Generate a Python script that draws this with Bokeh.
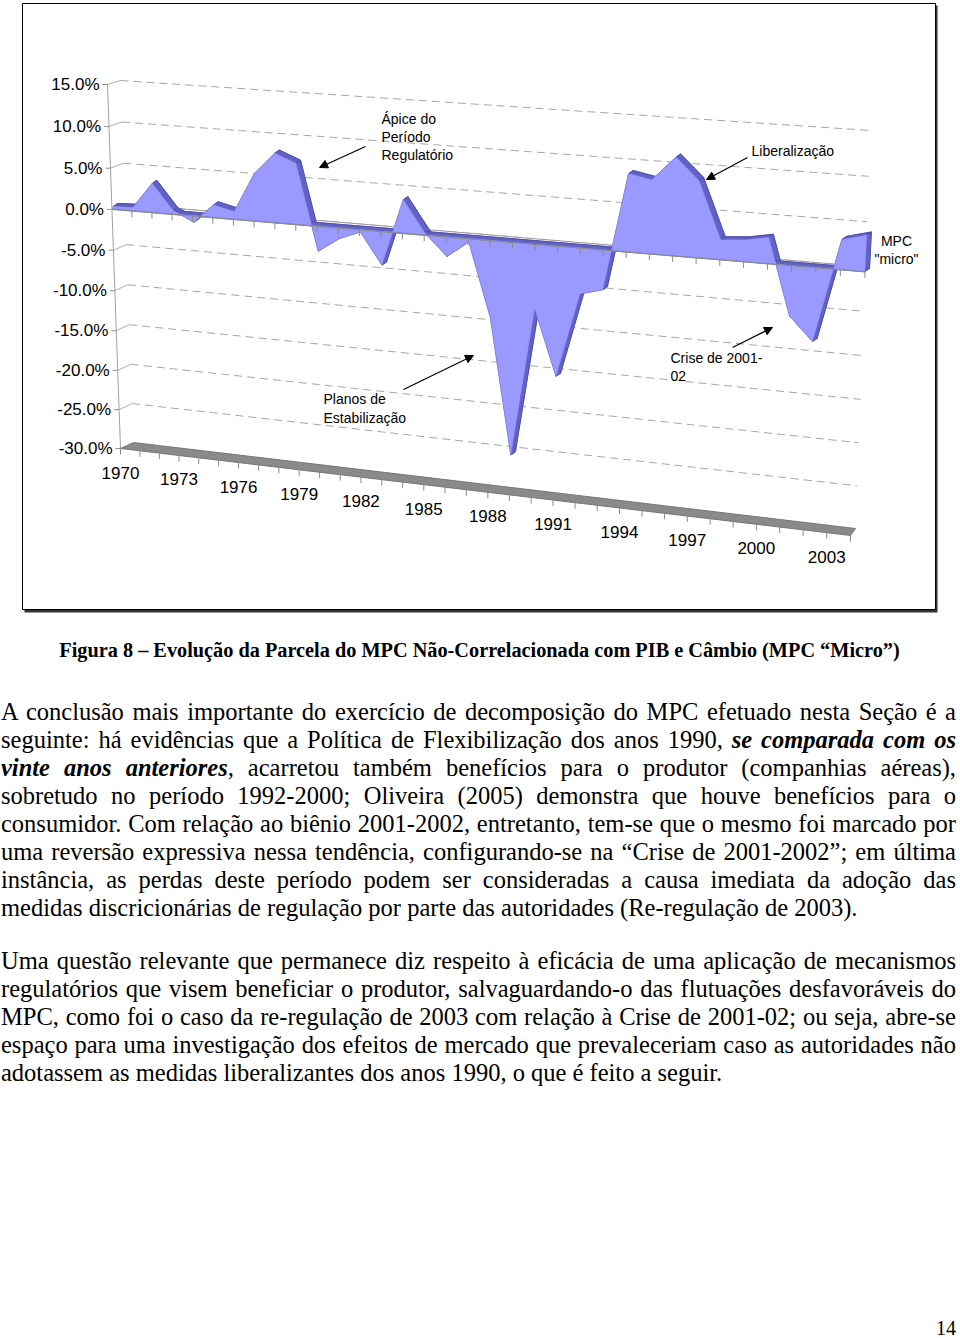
import numpy as np
from bokeh.plotting import figure
from bokeh.models import Range1d, Arrow, NormalHead, Div, ColumnDataSource
from bokeh.layouts import column
from bokeh.embed import file_html
from bokeh.resources import INLINE
from bokeh.core.properties import value

# ---------------- data ----------------
years = list(range(1970, 2005))
mpc_micro = [0.3, 0.4, 3.5, 0.4, -0.8, 1.5, 0.9, 5.6, 8.2, 7.2,
             -3.0, -1.3, -0.3, -4.0, 3.9, 0.2, -2.3, -0.4, -9.0, -25.2,
             -7.5, -15.2, -5.3, -4.6, 8.8, 8.3, 11.0, 8.6, 2.2, 2.4,
             2.9, -5.7, -8.3, 3.3, 4.0]
y_ticks = [15, 10, 5, 0, -5, -10, -15, -20, -25, -30]
y_tick_labels = ["%.1f%%" % v for v in y_ticks]
x_label_years = list(range(1970, 2004, 3))
x_labels = [str(y) for y in x_label_years]

caption = "Figura 8 \u2013 Evolução da Parcela do MPC Não-Correlacionada com PIB e Câmbio (MPC \u201cMicro\u201d)"

para1 = [
    "A conclusão mais importante do exercício de decomposição do MPC efetuado nesta Seção é a",
    "seguinte: há evidências que a Política de Flexibilização dos anos 1990, <b><i>se comparada com os</i></b>",
    "<b><i>vinte anos anteriores</i></b>, acarretou também benefícios para o produtor (companhias aéreas),",
    "sobretudo no período 1992-2000; Oliveira (2005) demonstra que houve benefícios para o",
    "consumidor. Com relação ao biênio 2001-2002, entretanto, tem-se que o mesmo foi marcado por",
    "uma reversão expressiva nessa tendência, configurando-se na \u201cCrise de 2001-2002\u201d; em última",
    "instância, as perdas deste período podem ser consideradas a causa imediata da adoção das",
    "medidas discricionárias de regulação por parte das autoridades (Re-regulação de 2003).",
]
para2 = [
    "Uma questão relevante que permanece diz respeito à eficácia de uma aplicação de mecanismos",
    "regulatórios que visem beneficiar o produtor, salvaguardando-o das flutuações desfavoráveis do",
    "MPC, como foi o caso da re-regulação de 2003 com relação à Crise de 2001-02; ou seja, abre-se",
    "espaço para uma investigação dos efeitos de mercado que prevaleceriam caso as autoridades não",
    "adotassem as medidas liberalizantes dos anos 1990, o que é feito a seguir.",
]
page_number = "14"

# ---------------- 3-D perspective projection ----------------
V_MIN, V_MAX = -30.0, 15.0
Y_FIRST, Y_LAST = years[0], years[-1]


def make_h(c00, c10, c11, c01):
    (x0, y0), (x1, y1), (x2, y2), (x3, y3) = c00, c10, c11, c01
    dx1, dy1 = x1 - x2, y1 - y2
    dx2, dy2 = x3 - x2, y3 - y2
    sx, sy = x0 - x1 + x2 - x3, y0 - y1 + y2 - y3
    det = dx1 * dy2 - dx2 * dy1
    g = (sx * dy2 - sy * dx2) / det
    h = (dx1 * sy - dy1 * sx) / det
    a, b, c = x1 - x0 + g * x1, x3 - x0 + h * x3, x0
    d, e, f = y1 - y0 + g * y1, y3 - y0 + h * y3, y0

    def fn(s, t):
        w = g * s + h * t + 1.0
        return (a * s + b * t + c) / w, (d * s + e * t + f) / w
    return fn


front = make_h((120, 448), (850, 535), (872, 133), (107, 84))
back = make_h((133, 442), (855, 528), (870, 130), (120, 80))


def proj(year, v, depth):
    s = (np.asarray(year, float) - Y_FIRST) / (Y_LAST - Y_FIRST)
    t = (np.asarray(v, float) - V_MIN) / (V_MAX - V_MIN)
    fx, fy = front(s, t)
    bx, by = back(s, t)
    return fx + depth * (bx - fx), fy + depth * (by - fy)


SERIES_D = 0.1
EXTRUDE = (4.5, -3.0)

W, H = 960, 670
p = figure(width=W, height=H, x_range=Range1d(0, W), y_range=Range1d(H, 0),
           output_backend="svg", toolbar_location=None,
           x_axis_location=None, y_axis_location=None,
           min_border=0, outline_line_color=None)
p.grid.visible = False
p.background_fill_color = "white"
p.border_fill_color = "white"

# chart frame with shadow
p.quad(left=[24], right=[937], top=[5], bottom=[612], fill_color="#333333", line_color=None)
p.quad(left=[22], right=[935], top=[3], bottom=[609], fill_color="white",
       line_color="black", line_width=1)

SANS = value("Liberation Sans")

# back-wall gridlines
gx, gy = [], []
for v in y_ticks[:-1]:
    xx, yy = proj([Y_FIRST, Y_LAST], [v, v], 1.0)
    gx.append(list(xx)); gy.append(list(yy))
p.multi_line(gx, gy, line_color="#a6a6a6", line_dash="8 5", line_width=1)

# depth connectors on the left wall + axis ticks
dx_, dy_, tx_, ty_ = [], [], [], []
for v in y_ticks:
    fx, fy = proj(Y_FIRST, v, 0.0)
    bx, by = proj(Y_FIRST, v, 1.0)
    dx_.append([float(fx), float(bx)]); dy_.append([float(fy), float(by)])
    tx_.append([float(fx) - 5, float(fx)]); ty_.append([float(fy), float(fy)])
p.multi_line(dx_[:-1], dy_[:-1], line_color="#b0b0b0", line_width=1)
p.multi_line(tx_, ty_, line_color="#909090", line_width=1)

# value axis line
ax, ay = proj([Y_FIRST, Y_FIRST], [V_MIN, V_MAX], 0.0)
p.line(list(ax), list(ay), line_color="#a0a0a0", line_width=1)

# floor
fxs, fys = [], []
for yr, d in [(Y_FIRST, 0), (Y_LAST, 0), (Y_LAST, 1), (Y_FIRST, 1)]:
    x, y = proj(yr, V_MIN, d)
    fxs.append(float(x)); fys.append(float(y))
p.patch(fxs, fys, fill_color="#8a8a8a", line_color="#777777", line_width=1)

# floor ticks
ftx, fty = [], []
for yr in years:
    x, y = proj(yr, V_MIN, 0.0)
    ftx.append([float(x), float(x)]); fty.append([float(y) - 1, float(y) + 6])
p.multi_line(ftx, fty, line_color="#8a8a8a", line_width=1)

# zero plane strip
zxs, zys = [], []
for yr, d in [(Y_FIRST, 0), (Y_LAST, 0), (Y_LAST, 1), (Y_FIRST, 1)]:
    x, y = proj(yr, 0.0, d)
    zxs.append(float(x)); zys.append(float(y))
p.patch(zxs, zys, fill_color="white", line_color="#9a9a9a", line_width=1)

# series (3-D area)
sx, sy = proj(years, mpc_micro, SERIES_D)
b0x, b0y = proj(Y_FIRST, 0.0, SERIES_D)
b1x, b1y = proj(Y_LAST, 0.0, SERIES_D)
px = [float(b0x)] + [float(v) for v in sx] + [float(b1x)]
py = [float(b0y)] + [float(v) for v in sy] + [float(b1y)]
ox, oy = EXTRUDE
p.patch([x + ox for x in px], [y + oy for y in py], fill_color="#6262C4", line_color="#4C4CA6", line_width=0.8)
qx, qy = [], []
n = len(px)
for i in range(n):
    j = (i + 1) % n
    qx.append([px[i], px[j], px[j] + ox, px[i] + ox])
    qy.append([py[i], py[j], py[j] + oy, py[i] + oy])
p.patches(qx, qy, fill_color="#6262C4", line_color="#4C4CA6", line_width=0.8)
p.patch(px, py, fill_color="#9999FF", line_color="#8C8CF0", line_width=0.6)

# category axis at zero with ticks
zx, zy = proj([Y_FIRST, Y_LAST], [0, 0], 0.0)
p.line(list(zx), list(zy), line_color="#8a8a8a", line_width=1)
ztx, zty = [], []
for yr in years[1:]:
    x, y = proj(yr, 0.0, 0.0)
    ztx.append([float(x), float(x)]); zty.append([float(y), float(y) + 6])
p.multi_line(ztx, zty, line_color="#8a8a8a", line_width=1)

# value axis labels
lx, ly = proj([Y_FIRST] * len(y_ticks), y_ticks, 0.0)
p.text(x=[float(v) - 8 for v in lx], y=[float(v) for v in ly], text=y_tick_labels,
       text_font=SANS, text_font_size="17px", text_align="right", text_baseline="middle",
       text_color="black")

# category labels
cx, cy = proj(x_label_years, [V_MIN] * len(x_label_years), 0.0)
p.text(x=[float(v) for v in cx], y=[float(v) + 24 for v in cy], text=x_labels,
       text_font=SANS, text_font_size="17px", text_align="center", text_baseline="middle",
       text_color="black")

# annotations
ann = ColumnDataSource(dict(
    x=[381, 381, 381, 751, 670, 670, 323, 323],
    y=[118, 136, 154, 150, 357, 375, 398, 417],
    t=["Ápice do", "Período", "Regulatório", "Liberalização", "Crise de 2001-", "02",
       "Planos de", "Estabilização"]))
p.text(x="x", y="y", text="t", source=ann, text_font=SANS, text_font_size="14px",
       text_align="left", text_baseline="middle", text_color="black")
p.text(x=[896, 896], y=[240, 258], text=["MPC", "\"micro\""], text_font=SANS,
       text_font_size="14px", text_align="center", text_baseline="middle", text_color="black")

for (x0, y0, x1, y1) in [(365, 146, 319, 167), (747, 157, 706, 179),
                         (732, 347, 772, 327), (403, 389, 473, 355)]:
    p.add_layout(Arrow(end=NormalHead(size=8, fill_color="black", line_color="black"),
                       x_start=x0, y_start=y0, x_end=x1, y_end=y1,
                       line_color="black", line_width=1.2))

# caption
p.text(x=[479], y=[649], text=[caption], text_font=value("Liberation Serif"),
       text_font_size="20.3px", text_font_style="bold", text_align="center",
       text_baseline="middle", text_color="black")

# ---------------- body text ----------------
def line_div(txt, last=False):
    if last:
        return '<div style="text-align:left;white-space:nowrap;">%s</div>' % txt
    return '<div style="text-align:justify;text-align-last:justify;">%s</div>' % txt

html = ['<div style="font-family:\'Liberation Serif\',serif;font-size:24.5px;line-height:28px;'
        'color:#000;width:955px;margin-left:-4px;">']
html.append('<div style="height:23px"></div>')
for i, ln in enumerate(para1):
    html.append(line_div(ln, i == len(para1) - 1))
html.append('<div style="height:25px"></div>')
for i, ln in enumerate(para2):
    html.append(line_div(ln, i == len(para2) - 1))
html.append('<div style="height:231px"></div>')
html.append('<div style="text-align:right;font-size:20px;line-height:20px;">%s</div>' % page_number)
html.append('</div>')
body = Div(text="".join(html), width=951)

layout = column(p, body, spacing=0)
open("out.html", "w").write(file_html(layout, INLINE))
